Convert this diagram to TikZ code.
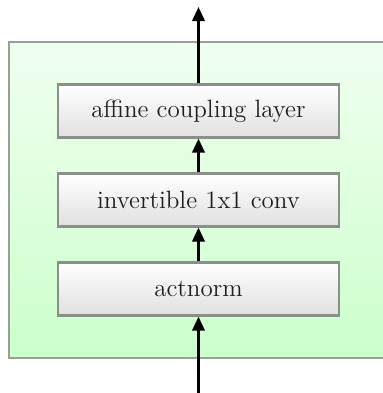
\documentclass[tikz,border=0pt]{standalone}
\usepackage{tikz}
\usetikzlibrary{arrows.meta,positioning}
\definecolor{stageline}{HTML}{999E99}
\definecolor{boxline}{HTML}{8A8F8A}

\begin{document}
\begin{tikzpicture}[
  x=0.5pt, y=-0.5pt,
  >={Triangle[length=7pt,width=6.2pt]},
  stage/.style={draw=stageline, line width=1pt, top color=green!6, bottom color=green!20},
  layer/.style={draw=boxline, line width=1.1pt, top color=white, bottom color=black!12,
    minimum width=140.5pt, minimum height=26.5pt, inner sep=0pt, text=black!88,
    font=\fontsize{12.5}{15}\selectfont},
  flow/.style={->, line width=1.3pt, draw=black}
]
\clip (0,0) rectangle (383,393);
\path[stage] (9,42) rectangle (395,358);

\node[layer] (cpl) at (198.5,111) {affine coupling layer};
\node[layer] (conv) at (198.5,200) {invertible 1x1 conv};
\node[layer] (an) at (198.5,289) {actnorm};

\coordinate (in) at (198.5,393);
\coordinate (out) at (198.5,7);

\draw[flow] (in) -- (an);
\draw[flow] (an) -- (conv);
\draw[flow] (conv) -- (cpl);
\draw[flow] (cpl) -- (out);
\end{tikzpicture}
\end{document}
